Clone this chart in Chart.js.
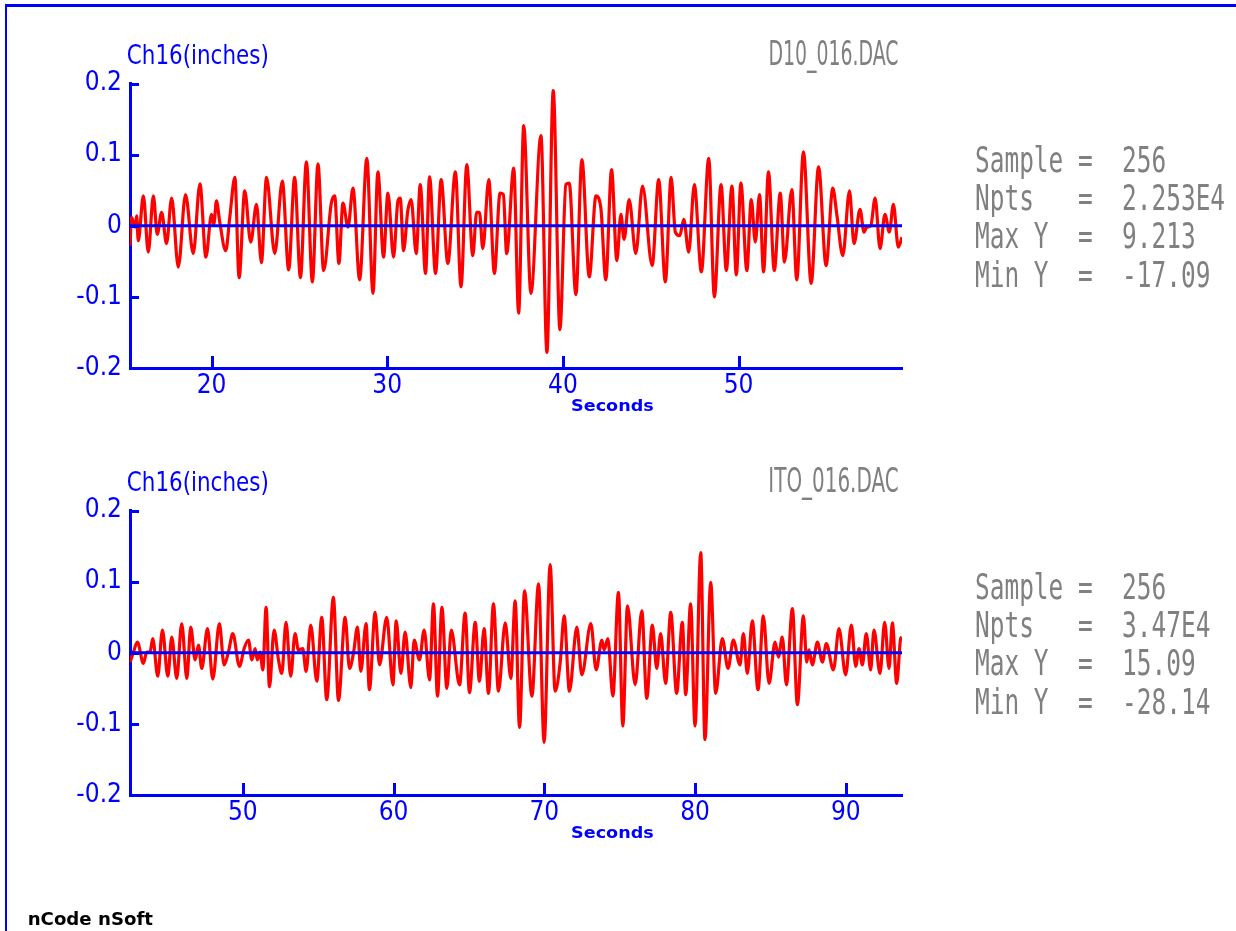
<!DOCTYPE html>
<html><head><meta charset="utf-8">
<script src="https://cdn.jsdelivr.net/npm/chart.js@4.4.0/dist/chart.umd.min.js"></script>
<style>
html,body{margin:0;padding:0;background:#fff;width:1236px;height:931px;overflow:hidden;}
#frame{position:absolute;left:5px;top:4px;width:1231px;height:927px;border-top:3px solid #0000ff;border-left:2px solid #0000ff;box-sizing:border-box;}
canvas{position:absolute;}
#c1{left:0;top:60px;} #c2{left:0;top:487px;}
svg{position:absolute;left:0;top:0;pointer-events:none;}
</style></head><body>
<div id="frame"></div>
<canvas id="c1" width="920" height="370"></canvas>
<canvas id="c2" width="920" height="370"></canvas>
<svg id="txt" xmlns="http://www.w3.org/2000/svg" width="1236" height="931"></svg>
<script>
// ---------- data (seconds, inches) ----------
const time1 = [15.36,15.45,15.64,15.74,15.83,16.12,16.40,16.69,16.91,17.16,17.44,17.73,18.11,18.52,18.96,19.34,19.68,20.00,20.13,20.28,20.47,20.81,21.04,21.33,21.57,21.89,22.23,22.56,22.84,23.13,23.60,24.03,24.39,24.73,25.06,25.40,25.74,26.06,26.38,26.82,27.01,27.25,27.48,27.77,28.05,28.43,28.84,29.19,29.47,
29.79,30.04,30.36,30.61,30.74,30.93,31.17,31.36,31.65,31.88,32.18,32.41,32.75,33.07,33.45,33.88,34.20,34.53,34.87,35.09,35.25,35.44,35.78,36.10,36.42,36.61,36.80,37.20,37.48,37.77,38.18,38.75,39.09,39.45,39.83,40.17,40.36,40.74,41.08,41.50,41.88,42.16,42.44,42.77,43.07,43.30,43.48,43.77,44.15,44.53,
45.08,45.45,45.83,46.16,46.40,46.65,46.88,47.16,47.48,47.88,48.30,48.62,49.00,49.30,49.62,49.87,50.13,50.47,50.72,50.95,51.19,51.42,51.70,52.03,52.37,52.61,53.03,53.31,53.69,54.13,54.55,54.98,55.36,55.59,55.93,56.31,56.57,56.91,57.14,57.29,57.52,57.77,58.05,58.33,58.58,58.81,59.09,59.30];
const ch16_1 = [-0.028,0.012,-0.002,0.014,-0.021,0.042,-0.037,0.042,-0.012,0.019,-0.025,0.039,-0.058,0.044,-0.039,0.059,-0.044,0.016,0.002,0.035,0.005,-0.035,0.012,0.068,-0.073,0.049,-0.023,0.030,-0.052,0.068,-0.039,0.063,-0.062,0.068,-0.073,0.090,-0.079,0.087,-0.063,0.032,0.042,-0.053,0.032,-0.002,0.053,-0.076,0.095,-0.095,0.076,
-0.044,0.046,-0.044,0.035,0.039,-0.035,0.021,0.037,-0.039,0.058,-0.067,0.069,-0.067,0.065,-0.053,0.076,-0.086,0.086,-0.042,0.019,0.019,-0.032,0.065,-0.067,0.046,0.044,-0.039,0.081,-0.123,0.141,-0.095,0.127,-0.178,0.190,-0.146,0.058,0.060,-0.097,0.093,-0.072,0.042,0.025,-0.076,0.079,-0.049,0.016,-0.019,0.037,-0.039,0.056,
-0.056,0.065,-0.079,0.068,-0.009,-0.014,0.009,-0.037,0.058,-0.065,0.095,-0.100,0.058,-0.063,0.056,-0.069,0.060,-0.063,0.037,-0.023,0.044,-0.065,0.076,-0.063,0.046,-0.051,0.051,-0.076,0.104,-0.081,0.083,-0.056,0.053,0.016,-0.042,0.049,-0.025,0.023,-0.009,-0.002,0.000,0.039,-0.032,0.016,-0.009,0.030,-0.030,-0.016];

const time2 = [42.53,42.75,43.01,43.41,43.63,43.85,44.03,44.36,44.67,45.03,45.29,45.62,45.95,46.29,46.55,46.84,47.06,47.28,47.66,48.01,48.45,48.76,49.05,49.34,49.78,50.09,50.38,50.60,50.82,50.97,51.15,51.33,51.55,51.77,52.08,52.37,52.59,52.87,53.18,53.47,53.69,53.98,54.20,54.51,54.91,55.24,55.57,56.01,56.35,56.79,57.08,57.34,57.61,57.83,58.18,58.40,58.78,59.07,59.55,
59.96,60.18,60.49,60.77,61.15,61.37,61.72,62.03,62.39,62.65,62.92,63.21,63.54,63.83,64.38,64.75,65.04,65.42,65.70,66.01,66.30,66.63,66.96,67.41,67.78,68.07,68.36,68.69,69.18,69.62,69.99,70.39,70.72,71.06,71.32,71.67,72.16,72.49,73.09,73.44,73.82,73.97,74.22,74.55,74.92,75.21,75.52,76.03,76.47,76.80,
77.17,77.46,77.72,78.05,78.39,78.78,79.16,79.38,79.71,80.00,80.38,80.66,81.04,81.37,81.81,82.19,82.54,82.98,83.21,83.47,83.80,84.18,84.53,84.91,85.31,85.53,85.79,86.06,86.46,86.79,87.19,87.41,87.56,87.78,88.12,88.45,88.71,89.18,89.55,89.99,90.37,90.66,90.88,91.10,91.36,91.65,91.87,92.27,92.58,92.87,93.09,93.38,93.64,93.72];
const ch16_2 = [-0.013,0.001,0.015,-0.015,0.001,0.001,0.020,-0.033,0.032,-0.033,0.022,-0.036,0.041,-0.036,0.036,-0.010,0.011,-0.022,0.034,-0.037,0.041,-0.017,0.001,0.027,-0.019,0.006,0.018,-0.010,0.006,-0.010,0.001,-0.024,0.064,-0.048,0.032,-0.010,-0.029,0.043,-0.033,0.027,0.004,0.006,-0.026,0.039,-0.040,0.050,-0.066,0.078,-0.067,0.050,-0.022,-0.001,0.036,-0.026,0.041,-0.052,0.057,-0.017,0.050,
-0.045,0.045,-0.029,0.029,-0.049,0.018,-0.010,0.032,-0.038,0.069,-0.061,0.064,-0.050,0.032,-0.045,0.056,-0.056,0.043,-0.040,0.034,-0.057,0.069,-0.054,0.042,-0.036,0.073,-0.105,0.087,-0.061,0.097,-0.126,0.124,-0.054,-0.013,0.052,-0.054,0.036,-0.031,0.041,-0.024,0.018,0.004,0.020,-0.061,0.085,-0.103,0.066,-0.045,0.059,-0.064,
0.039,-0.022,0.027,-0.043,0.057,-0.057,0.043,-0.059,0.069,-0.103,0.141,-0.122,0.099,-0.057,0.020,-0.022,0.018,-0.017,0.027,-0.029,0.045,-0.052,0.052,-0.043,0.015,-0.006,0.022,-0.045,0.062,-0.073,0.052,-0.013,0.004,-0.017,0.015,-0.013,0.013,-0.024,0.034,-0.031,0.039,-0.019,0.006,-0.017,0.027,-0.024,0.032,-0.029,0.043,-0.022,0.042,-0.043,0.020,0.022];

const xRange1 = [15.36, 59.3];
const xRange2 = [42.52, 93.73];
const yRange = [-0.2, 0.2];
const xTicks1 = [20, 30, 40, 50];
const xTicks2 = [50, 60, 70, 80, 90];
const yTicks = [-0.2, -0.1, 0, 0.1, 0.2];
const yTickLabels = ['-0.2', '-0.1', '0', '0.1', '0.2'];
const channelLabel = 'Ch16(inches)';
const fileNames = ['D10_016.DAC', 'ITO_016.DAC'];
const xAxisLabel = 'Seconds';
const statNames = ['Sample', 'Npts', 'Max Y', 'Min Y'];
const stats1 = ['256', '2.253E4', '9.213', '-17.09'];
const stats2 = ['256', '3.47E4', '15.09', '-28.14'];
const footer = 'nCode nSoft';

// ---------- charts ----------
const BLUE = '#0000ff', RED = '#ff0000', GRAY = '#808080';
const TICKFONT = "'DejaVu Sans Condensed', 'DejaVu Sans', sans-serif";

const inwardTicks = {
  id: 'inwardTicks',
  afterDraw(chart) {
    const {ctx, chartArea: a, scales: {x, y}} = chart;
    ctx.save();
    ctx.strokeStyle = BLUE; ctx.lineWidth = 3; ctx.lineCap = 'butt';
    ctx.beginPath();
    y.ticks.forEach(t => {
      if (t.value > yRange[0] + 1e-9) {
        const py = Math.round(y.getPixelForValue(t.value)) + 0.5;
        ctx.moveTo(a.left, py); ctx.lineTo(a.left + 9, py);
      }
    });
    x.ticks.forEach(t => {
      const px = Math.round(x.getPixelForValue(t.value)) + 0.5;
      ctx.moveTo(px, a.bottom); ctx.lineTo(px, a.bottom - 12);
    });
    ctx.stroke();
    ctx.restore();
  }
};

function makeChart(id, times, vals, xr, xt) {
  const pts = times.map((t, i) => ({x: t, y: vals[i]}));
  return new Chart(document.getElementById(id), {
    type: 'line',
    data: {
      datasets: [
        {data: [{x: xr[0], y: 0}, {x: xr[1], y: 0}], borderColor: BLUE, borderWidth: 3, pointRadius: 0, tension: 0},
        {data: pts, borderColor: RED, borderWidth: 3.2, pointRadius: 0, cubicInterpolationMode: 'monotone', borderJoinStyle: 'round'}
      ]
    },
    options: {
      responsive: false, animation: false, devicePixelRatio: 1, events: [],
      layout: {padding: {left: 0, right: 18, top: 21, bottom: 0}},
      plugins: {legend: {display: false}, tooltip: {enabled: false}},
      scales: {
        x: {
          type: 'linear', min: xr[0], max: xr[1],
          afterBuildTicks: s => { s.ticks = xt.map(v => ({value: v})); },
          afterFit: s => { s.height = 62; },
          ticks: {color: BLUE, font: {family: TICKFONT, size: 26}, padding: 3, maxRotation: 0, autoSkip: false, callback: v => String(v)},
          grid: {display: true, drawOnChartArea: false, drawTicks: false},
          border: {display: true, color: BLUE, width: 3}
        },
        y: {
          type: 'linear', min: yRange[0], max: yRange[1],
          afterBuildTicks: s => { s.ticks = yTicks.map(v => ({value: v})); },
          afterFit: s => { s.width = 130; },
          ticks: {color: BLUE, font: {family: TICKFONT, size: 26}, padding: 8, autoSkip: false,
                  callback: v => yTickLabels[yTicks.indexOf(v)]},
          grid: {display: true, drawOnChartArea: false, drawTicks: false},
          border: {display: true, color: BLUE, width: 3}
        }
      }
    },
    plugins: [inwardTicks]
  });
}
makeChart('c1', time1, ch16_1, xRange1, xTicks1);
makeChart('c2', time2, ch16_2, xRange2, xTicks2);

// ---------- texts (SVG, real text) ----------
const svg = document.getElementById('txt');
const mctx = document.createElement('canvas').getContext('2d');
const FS = 40;
function addText(str, o) {
  const weight = o.weight || 'normal';
  mctx.font = `${weight} ${FS}px ${o.family}`;
  const m = mctx.measureText(str);
  const capH = mctx.measureText('H').actualBoundingBoxAscent;
  const sy = (o.baseline - o.capTop) / capH;
  let sx;
  if (o.advance) sx = o.advance / mctx.measureText('M').width;
  else sx = (o.right - o.left) / (m.actualBoundingBoxLeft + m.actualBoundingBoxRight);
  const ox = o.advance ? o.left : o.left + m.actualBoundingBoxLeft * sx;
  const t = document.createElementNS('http://www.w3.org/2000/svg', 'text');
  t.setAttribute('x', 0); t.setAttribute('y', 0);
  t.setAttribute('transform', `translate(${ox},${o.baseline}) scale(${sx},${sy})`);
  t.setAttribute('fill', o.color);
  t.setAttribute('font-family', o.family);
  t.setAttribute('font-size', FS);
  t.setAttribute('font-weight', weight);
  t.setAttribute('xml:space', 'preserve');
  t.style.whiteSpace = 'pre';
  t.textContent = str;
  svg.appendChild(t);
}
const COND = "'DejaVu Sans Condensed', 'DejaVu Sans', sans-serif";
const MONO = "'DejaVu Sans Mono', monospace";
const BOLD = "'DejaVu Sans', sans-serif";
[0, 427].forEach((dy, p) => {
  addText(channelLabel, {left: 128, right: 267, capTop: 43 + dy, baseline: 63.5 + dy, family: COND, color: BLUE});
  addText(fileNames[p], {left: 770, right: 898, capTop: 40 + dy, baseline: 65 + dy, family: COND, color: GRAY});
  addText(xAxisLabel, {left: 572, right: 653, capTop: 398.5 + dy, baseline: 411 + dy, family: BOLD, weight: 'bold', color: BLUE});
  const st = p === 0 ? stats1 : stats2;
  statNames.forEach((n, i) => {
    const line = n.padEnd(7, ' ') + '=  ' + st[i];
    addText(line, {left: 975, advance: 14.72, capTop: 145 + dy + i * 38.3, baseline: 171.7 + dy + i * 38.3, family: MONO, color: GRAY});
  });
});
addText(footer, {left: 29, right: 153, capTop: 912, baseline: 925, family: BOLD, weight: 'bold', color: '#000000'});
</script>
</body></html>
